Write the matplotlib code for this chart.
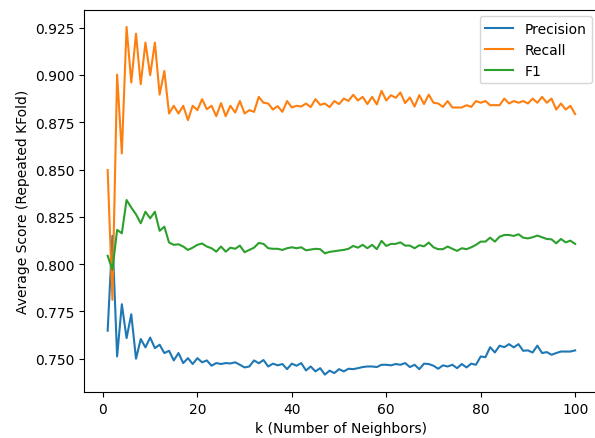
import matplotlib
matplotlib.use("Agg")
import matplotlib.pyplot as plt

k_values = list(range(1, 101))

precision = [
    0.7648, 0.8150, 0.7512, 0.7788, 0.7609, 0.7735, 0.7500, 0.7604, 0.7560, 0.7612,
    0.7556, 0.7574, 0.7530, 0.7542, 0.7491, 0.7530, 0.7477, 0.7503, 0.7472, 0.7503,
    0.7481, 0.7491, 0.7463, 0.7477, 0.7472, 0.7477, 0.7475, 0.7481, 0.7468, 0.7454,
    0.7459, 0.7491, 0.7476, 0.7493, 0.7459, 0.7474, 0.7465, 0.7472, 0.7445, 0.7474,
    0.7463, 0.7477, 0.7438, 0.7459, 0.7433, 0.7450, 0.7416, 0.7437, 0.7424, 0.7445,
    0.7433, 0.7447, 0.7445, 0.7450, 0.7456, 0.7459, 0.7459, 0.7456, 0.7468, 0.7468,
    0.7465, 0.7472, 0.7468, 0.7477, 0.7456, 0.7468, 0.7445, 0.7474, 0.7472, 0.7463,
    0.7447, 0.7465, 0.7459, 0.7468, 0.7450, 0.7472, 0.7454, 0.7474, 0.7468, 0.7512,
    0.7508, 0.7561, 0.7533, 0.7569, 0.7561, 0.7577, 0.7560, 0.7577, 0.7542, 0.7544,
    0.7533, 0.7569, 0.7530, 0.7535, 0.7521, 0.7530, 0.7538, 0.7538, 0.7538, 0.7544,
]

recall = [
    0.8497, 0.7811, 0.9002, 0.8585, 0.9254, 0.8960, 0.9218, 0.8951, 0.9171, 0.8999,
    0.9171, 0.8896, 0.9021, 0.8796, 0.8837, 0.8796, 0.8837, 0.8761, 0.8837, 0.8814,
    0.8872, 0.8819, 0.8837, 0.8782, 0.8851, 0.8782, 0.8837, 0.8801, 0.8862, 0.8796,
    0.8814, 0.8805, 0.8884, 0.8853, 0.8849, 0.8817, 0.8835, 0.8805, 0.8862, 0.8828,
    0.8837, 0.8833, 0.8849, 0.8830, 0.8872, 0.8842, 0.8849, 0.8830, 0.8862, 0.8846,
    0.8875, 0.8863, 0.8895, 0.8865, 0.8884, 0.8846, 0.8884, 0.8844, 0.8916, 0.8865,
    0.8893, 0.8879, 0.8907, 0.8851, 0.8881, 0.8833, 0.8893, 0.8846, 0.8896, 0.8853,
    0.8849, 0.8831, 0.8862, 0.8828, 0.8828, 0.8828, 0.8840, 0.8831, 0.8862, 0.8853,
    0.8862, 0.8840, 0.8840, 0.8840, 0.8875, 0.8849, 0.8862, 0.8853, 0.8862, 0.8849,
    0.8875, 0.8853, 0.8884, 0.8853, 0.8875, 0.8817, 0.8849, 0.8817, 0.8837, 0.8793,
]

f1 = [
    0.8044, 0.7970, 0.8181, 0.8163, 0.8339, 0.8299, 0.8263, 0.8216, 0.8277, 0.8242,
    0.8277, 0.8176, 0.8198, 0.8114, 0.8102, 0.8105, 0.8093, 0.8075, 0.8087, 0.8102,
    0.8109, 0.8093, 0.8084, 0.8066, 0.8093, 0.8066, 0.8087, 0.8081, 0.8098, 0.8063,
    0.8075, 0.8087, 0.8112, 0.8107, 0.8084, 0.8081, 0.8081, 0.8075, 0.8084, 0.8089,
    0.8084, 0.8089, 0.8073, 0.8077, 0.8081, 0.8079, 0.8057, 0.8065, 0.8068, 0.8072,
    0.8075, 0.8081, 0.8096, 0.8087, 0.8102, 0.8084, 0.8102, 0.8079, 0.8123, 0.8096,
    0.8107, 0.8107, 0.8115, 0.8098, 0.8098, 0.8084, 0.8100, 0.8094, 0.8114, 0.8089,
    0.8079, 0.8079, 0.8093, 0.8081, 0.8070, 0.8084, 0.8079, 0.8089, 0.8102, 0.8119,
    0.8119, 0.8140, 0.8119, 0.8145, 0.8154, 0.8154, 0.8149, 0.8158, 0.8140, 0.8136,
    0.8142, 0.8151, 0.8142, 0.8133, 0.8131, 0.8110, 0.8133, 0.8115, 0.8124, 0.8107,
]

series_labels = ["Precision", "Recall", "F1"]

fig = plt.figure(figsize=(5.95, 4.39), dpi=100)
ax = fig.add_axes([84.3 / 595, 46 / 439, (598.5 - 84.3) / 595, (393 - 10.5) / 439])
ax.plot(k_values, precision, label=series_labels[0])
ax.plot(k_values, recall, label=series_labels[1])
ax.plot(k_values, f1, label=series_labels[2])
ax.set_xlabel("k (Number of Neighbors)")
ax.set_ylabel("Average Score (Repeated KFold)")
ax.legend(loc="upper right")
fig.savefig("out.png", dpi=100)
